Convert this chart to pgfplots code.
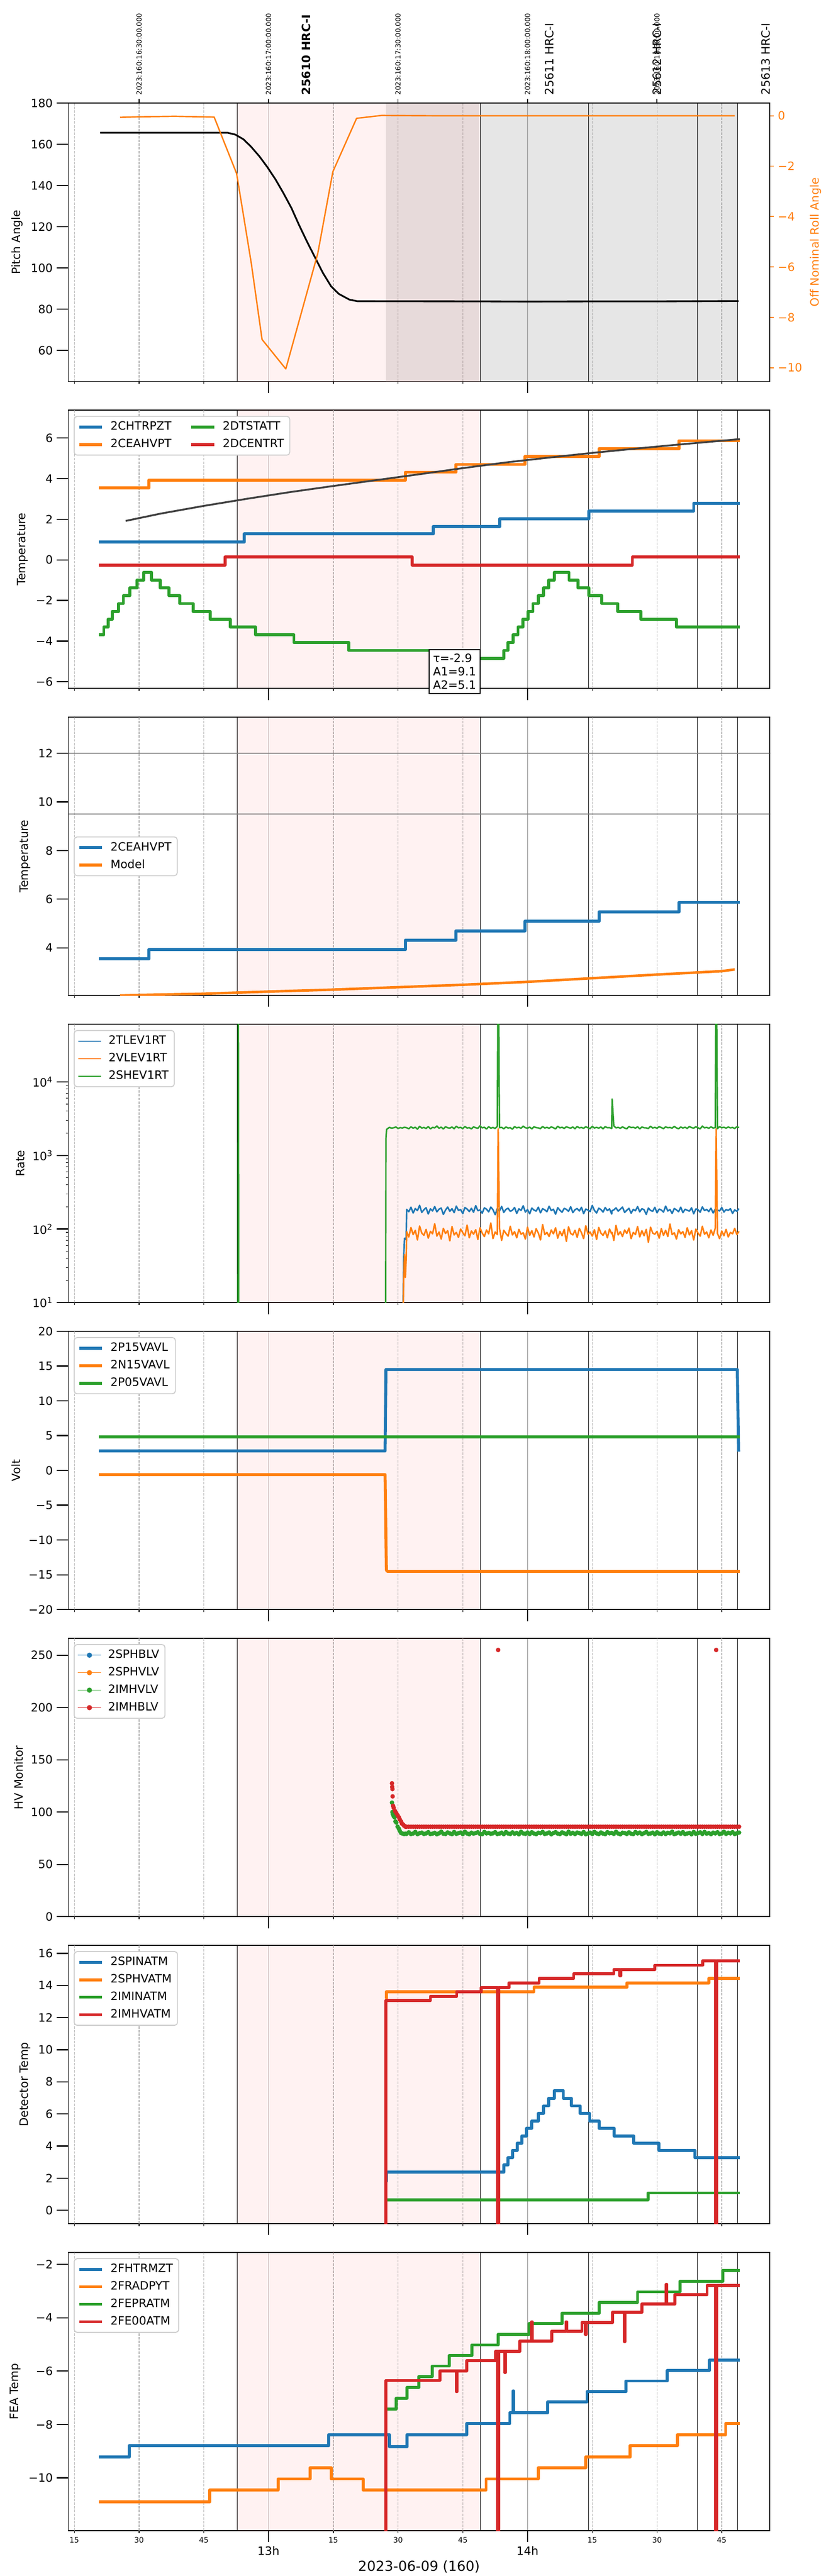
\documentclass[border=0pt]{standalone}
\usepackage{fontspec}
\setmainfont{DejaVu Sans}
\usepackage{pgfplots}
\usepackage{pgfplotstable}
\pgfplotsset{compat=1.18}
\definecolor{c0}{HTML}{1F77B4}
\definecolor{c1}{HTML}{FF7F0E}
\definecolor{c2}{HTML}{2CA02C}
\definecolor{c3}{HTML}{D62728}

\pgfplotstableread[row sep=\\]{
x b o\\
91.0 1 1\\ 91.3 40 20\\ 91.5 75 45\\ 91.7 72 22\\ 91.9 78 40\\
92.0 185 92\\ 92.5 172 78\\ 93.0 198 105\\ 93.5 165 84\\ 94.0 190 96\\ 94.5 178 71\\ 95.0 210 110\\ 95.5 168 88\\ 96.0 183 82\\ 96.5 195 99\\
97.0 160 75\\ 97.5 188 93\\ 98.0 176 86\\ 98.5 202 118\\ 99.0 171 80\\ 99.5 186 91\\ 100.0 193 73\\ 100.5 158 102\\ 101.0 181 87\\ 101.5 199 95\\
102.0 174 69\\ 102.5 189 108\\ 103.0 167 83\\ 103.5 205 90\\ 104.0 179 77\\ 104.5 184 100\\ 105.0 162 89\\ 105.5 196 81\\ 106.0 187 113\\ 106.5 173 76\\
107.0 191 94\\ 107.5 169 85\\ 108.0 208 98\\ 108.5 177 72\\ 109.0 182 104\\ 109.5 164 88\\ 110.0 194 79\\ 110.5 186 97\\ 111.0 171 86\\ 111.5 199 121\\
112.0 183 74\\ 112.5 157 91\\ 113.0 190 84\\ 113.2 180 2300\\ 113.5 176 103\\ 114.0 203 70\\ 114.5 168 96\\ 115.0 185 87\\ 115.5 192 80\\ 116.0 174 109\\ 116.5 180 83\\
117.0 196 92\\ 117.5 163 76\\ 118.0 188 99\\ 118.5 179 85\\ 119.0 207 89\\ 119.5 170 73\\ 120.0 184 106\\ 120.5 161 82\\ 121.0 193 95\\ 121.5 181 78\\
122.0 175 101\\ 122.5 198 88\\ 123.0 166 71\\ 123.5 189 115\\ 124.0 182 84\\ 124.5 172 90\\ 125.0 204 79\\ 125.5 178 97\\ 126.0 186 86\\ 126.5 159 104\\
127.0 195 75\\ 127.5 180 93\\ 128.0 169 81\\ 128.5 191 99\\ 129.0 185 68\\ 129.5 174 107\\ 130.0 201 87\\ 130.5 167 83\\ 131.0 183 96\\ 131.5 190 77\\
132.0 176 102\\ 132.5 197 89\\ 133.0 162 74\\ 133.5 187 111\\ 134.0 181 85\\ 134.5 173 91\\ 135.0 209 80\\ 135.5 179 98\\ 136.0 165 72\\ 136.5 192 105\\
137.0 184 88\\ 137.5 170 82\\ 138.0 196 94\\ 138.5 178 76\\ 139.0 188 100\\ 139.5 160 86\\ 139.6 178 90\\ 140.0 182 70\\ 140.5 194 112\\ 141.0 175 83\\ 141.5 186 92\\
142.0 199 79\\ 142.5 168 97\\ 143.0 180 87\\ 143.5 191 103\\ 144.0 164 74\\ 144.5 185 90\\ 145.0 177 84\\ 145.5 202 108\\ 146.0 171 78\\ 146.5 189 95\\
147.0 183 81\\ 147.5 158 99\\ 148.0 193 66\\ 148.5 179 106\\ 149.0 174 88\\ 149.5 197 85\\ 150.0 166 93\\ 150.5 187 75\\ 151.0 181 101\\ 151.5 170 82\\
152.0 205 96\\ 152.5 176 79\\ 153.0 184 117\\ 153.5 163 84\\ 154.0 190 89\\ 154.5 182 73\\ 155.0 172 98\\ 155.5 198 86\\ 156.0 167 92\\ 156.5 186 77\\
157.0 180 104\\ 157.5 175 83\\ 158.0 194 95\\ 158.5 161 71\\ 159.0 188 100\\ 159.5 183 88\\ 160.0 169 80\\ 160.5 200 109\\ 161.0 178 85\\ 161.5 185 91\\
162.0 173 76\\ 162.5 192 97\\ 163.0 165 82\\ 163.5 187 103\\ 163.7 180 2300\\ 164.0 181 87\\ 164.5 176 74\\ 165.0 196 94\\ 165.5 170 81\\ 166.0 184 99\\ 166.5 179 78\\
167.0 189 90\\ 167.5 163 86\\ 168.0 182 102\\ 168.5 174 84\\ 169.0 190 93\\
}\rateBO

\pgfplotstableread[row sep=\\]{
x g\\
52.9 1\\ 53.0 1e6\\ 53.1 1\\ 87.1 1\\ 87.2 1700\\ 87.35 2250\\
87.5 2300\\ 88.0 2410\\ 88.5 2350\\ 89.0 2380\\ 89.5 2440\\ 90.0 2330\\ 90.5 2390\\ 91.0 2360\\ 91.5 2420\\
92.0 2380\\ 92.5 2310\\ 93.0 2450\\ 93.5 2350\\ 94.0 2420\\ 94.5 2280\\ 95.0 2490\\ 95.5 2360\\ 96.0 2400\\ 96.5 2330\\
97.0 2470\\ 97.5 2300\\ 98.0 2410\\ 98.5 2370\\ 99.0 2520\\ 99.5 2340\\ 100.0 2430\\ 100.5 2290\\ 101.0 2460\\ 101.5 2380\\
102.0 2350\\ 102.5 2440\\ 103.0 2310\\ 103.5 2500\\ 104.0 2370\\ 104.5 2410\\ 105.0 2320\\ 105.5 2480\\ 106.0 2360\\ 106.5 2390\\
107.0 2300\\ 107.5 2450\\ 108.0 2380\\ 108.5 2340\\ 109.0 2530\\ 109.5 2370\\ 110.0 2420\\ 110.5 2290\\ 111.0 2460\\ 111.5 2350\\
112.0 2400\\ 112.5 2330\\ 113.0 2490\\ 113.2 1e6\\ 113.5 2380\\ 114.0 2410\\ 114.5 2310\\ 115.0 2440\\ 115.5 2360\\ 116.0 2390\\ 116.5 2280\\
117.0 2470\\ 117.5 2370\\ 118.0 2420\\ 118.5 2340\\ 119.0 2510\\ 119.5 2380\\ 120.0 2350\\ 120.5 2430\\ 121.0 2300\\ 121.5 2460\\
122.0 2390\\ 122.5 2370\\ 123.0 2320\\ 123.5 2480\\ 124.0 2360\\ 124.5 2410\\ 125.0 2340\\ 125.5 2450\\ 126.0 2380\\ 126.5 2300\\
127.0 2500\\ 127.5 2370\\ 128.0 2420\\ 128.5 2330\\ 129.0 2460\\ 129.5 2390\\ 130.0 2350\\ 130.5 2440\\ 131.0 2310\\ 131.5 2480\\
132.0 2370\\ 132.5 2400\\ 133.0 2340\\ 133.5 2460\\ 134.0 2380\\ 134.5 2320\\ 135.0 2490\\ 135.5 2360\\ 136.0 2410\\ 136.5 2350\\
137.0 2440\\ 137.5 2300\\ 138.0 2470\\ 138.5 2380\\ 139.0 2390\\ 139.5 2330\\ 139.6 5850\\ 140.0 2520\\ 140.5 2370\\ 141.0 2410\\ 141.5 2340\\
142.0 2450\\ 142.5 2360\\ 143.0 2310\\ 143.5 2480\\ 144.0 2390\\ 144.5 2420\\ 145.0 2350\\ 145.5 2460\\ 146.0 2300\\ 146.5 2440\\
147.0 2380\\ 147.5 2370\\ 148.0 2330\\ 148.5 2500\\ 149.0 2360\\ 149.5 2410\\ 150.0 2340\\ 150.5 2470\\ 151.0 2390\\ 151.5 2320\\
152.0 2450\\ 152.5 2380\\ 153.0 2400\\ 153.5 2350\\ 154.0 2490\\ 154.5 2370\\ 155.0 2310\\ 155.5 2440\\ 156.0 2360\\ 156.5 2420\\
157.0 2330\\ 157.5 2480\\ 158.0 2390\\ 158.5 2350\\ 159.0 2460\\ 159.5 2380\\ 160.0 2300\\ 160.5 2510\\ 161.0 2370\\ 161.5 2410\\
162.0 2340\\ 162.5 2450\\ 163.0 2360\\ 163.5 2390\\ 163.7 1e6\\ 164.0 2320\\ 164.5 2470\\ 165.0 2380\\ 165.5 2420\\ 166.0 2350\\ 166.5 2440\\
167.0 2370\\ 167.5 2400\\ 168.0 2330\\ 168.5 2460\\ 169.0 2390\\
}\rateG

\pgfplotstableread[row sep=\\]{
x r g\\
92.0 86 79.2\\ 92.5 86 80.6\\ 93.0 86 79.0\\ 93.5 86 79.5\\ 94.0 86 81.0\\ 94.5 86 78.9\\ 95.0 86 79.8\\ 95.5 86 80.3\\ 96.0 86 79.1\\ 96.5 86 79.6\\
97.0 86 80.8\\ 97.5 86 79.0\\ 98.0 86 79.4\\ 98.5 86 80.1\\ 99.0 86 78.8\\ 99.5 86 79.7\\ 100.0 86 81.2\\ 100.5 86 79.3\\ 101.0 86 79.0\\ 101.5 86 80.5\\
102.0 86 79.6\\ 102.5 86 78.9\\ 103.0 86 80.9\\ 103.5 86 79.2\\ 104.0 86 79.8\\ 104.5 86 80.4\\ 105.0 86 79.0\\ 105.5 86 81.1\\ 106.0 86 79.5\\ 106.5 86 78.8\\
107.0 86 80.2\\ 107.5 86 79.4\\ 108.0 86 79.9\\ 108.5 86 80.7\\ 109.0 86 79.1\\ 109.5 86 78.9\\ 110.0 86 81.0\\ 110.5 86 79.6\\ 111.0 86 80.0\\ 111.5 86 79.2\\
112.0 86 79.7\\ 112.5 86 80.8\\ 113.0 86 79.0\\ 113.5 86 79.4\\ 114.0 86 80.3\\ 114.5 86 78.9\\ 115.0 86 80.9\\ 115.5 86 79.5\\ 116.0 86 79.1\\ 116.5 86 80.6\\
117.0 86 79.3\\ 117.5 86 80.0\\ 118.0 86 78.8\\ 118.5 86 81.1\\ 119.0 86 79.6\\ 119.5 86 79.2\\ 120.0 86 80.4\\ 120.5 86 79.0\\ 121.0 86 80.7\\ 121.5 86 79.5\\
122.0 86 78.9\\ 122.5 86 80.2\\ 123.0 86 79.8\\ 123.5 86 81.0\\ 124.0 86 79.1\\ 124.5 86 79.6\\ 125.0 86 80.5\\ 125.5 86 78.8\\ 126.0 86 79.9\\ 126.5 86 80.8\\
127.0 86 79.4\\ 127.5 86 79.0\\ 128.0 86 80.6\\ 128.5 86 79.7\\ 129.0 86 78.9\\ 129.5 86 81.2\\ 130.0 86 79.3\\ 130.5 86 80.1\\ 131.0 86 79.0\\ 131.5 86 80.4\\
132.0 86 79.8\\ 132.5 86 79.2\\ 133.0 86 80.9\\ 133.5 86 78.8\\ 134.0 86 79.5\\ 134.5 86 80.3\\ 135.0 86 79.1\\ 135.5 86 81.0\\ 136.0 86 79.6\\ 136.5 86 79.0\\
137.0 86 80.5\\ 137.5 86 79.4\\ 138.0 86 78.9\\ 138.5 86 80.8\\ 139.0 86 79.7\\ 139.5 86 80.0\\ 140.0 86 79.2\\ 140.5 86 81.1\\ 141.0 86 79.5\\ 141.5 86 78.8\\
142.0 86 80.2\\ 142.5 86 79.9\\ 143.0 86 79.1\\ 143.5 86 80.6\\ 144.0 86 79.3\\ 144.5 86 79.0\\ 145.0 86 80.9\\ 145.5 86 79.6\\ 146.0 86 80.4\\ 146.5 86 78.9\\
147.0 86 79.8\\ 147.5 86 81.0\\ 148.0 86 79.2\\ 148.5 86 79.5\\ 149.0 86 80.3\\ 149.5 86 78.8\\ 150.0 86 80.7\\ 150.5 86 79.4\\ 151.0 86 79.1\\ 151.5 86 80.5\\
152.0 86 79.0\\ 152.5 86 80.1\\ 153.0 86 79.7\\ 153.5 86 81.2\\ 154.0 86 78.9\\ 154.5 86 79.6\\ 155.0 86 80.4\\ 155.5 86 79.3\\ 156.0 86 80.8\\ 156.5 86 79.0\\
157.0 86 79.5\\ 157.5 86 80.0\\ 158.0 86 78.8\\ 158.5 86 80.9\\ 159.0 86 79.2\\ 159.5 86 79.8\\ 160.0 86 80.6\\ 160.5 86 79.1\\ 161.0 86 81.0\\ 161.5 86 79.4\\
162.0 86 79.9\\ 162.5 86 78.9\\ 163.0 86 80.3\\ 163.5 86 79.6\\ 164.0 86 80.7\\ 164.5 86 79.0\\ 165.0 86 79.5\\ 165.5 86 81.1\\ 166.0 86 79.2\\ 166.5 86 80.2\\
167.0 86 79.6\\ 167.5 86 80.8\\ 168.0 86 79.0\\ 168.5 86 79.7\\ 169.0 86 80.4\\
}\hvmon

\pgfplotsset{
  evl/.style={black, line width=0.45pt, forget plot},
  extrat/.style={major tick length=2pt, grid=major,
    major grid style={color=gray!60, line width=0.6pt, dash pattern=on 2.2pt off 1pt},
    major tick style={line width=0.6pt}},
  panel/.style={
    scale only axis, width=609.96pt, height=242.10pt,
    xmin=13.62, xmax=176.1, clip mode=individual,
    axis line style={line width=0.7pt},
    tick align=outside, xtick pos=left, ytick pos=left,
    major tick length=10pt, minor tick length=2pt,
    tick style={black, line width=1pt}, minor tick style={line width=0.5pt},
    xtick={60,120}, xticklabels={},
    xmajorgrids, major grid style={solid, color=gray!60, line width=0.6pt},
    extra x ticks={15,30,45,75,90,105,135,150,165}, extra x tick labels={},
    extra tick style={extrat},
    legend image code/.code={\draw[##1, line cap=butt] (0pt,0pt) -- (20pt,0pt);},
    legend cell align=left,
    legend style={at={(0.0077,0.979)}, anchor=north west, draw=black!20, line width=0.8pt,
      rounded corners=2.5pt, fill=white, font=\fontsize{10}{12}\selectfont,
      inner xsep=3pt, inner ysep=2.5pt, row sep=1.7pt, column sep=4pt,
      nodes={inner sep=2pt, text height=7.5pt, text depth=2pt},
      /tikz/every even column/.append style={column sep=14pt}},
  }
}
\newcommand\evbg[2]{%
  \addplot[draw=none, fill=red, fill opacity=0.05, forget plot] coordinates {(52.7,#1)(52.7,#2)(109.1,#2)(109.1,#1)} -- cycle;
  \addplot[evl] coordinates {(52.7,#1)(52.7,#2)};
  \addplot[evl] coordinates {(109.1,#1)(109.1,#2)};
  \addplot[evl] coordinates {(134.2,#1)(134.2,#2)};
  \addplot[evl] coordinates {(159.3,#1)(159.3,#2)};
  \addplot[evl] coordinates {(168.7,#1)(168.7,#2)};
}

\begin{document}
\begin{tikzpicture}
\path[use as bounding box] (0pt,0pt) rectangle (722.7pt,-2240.37pt);

% ---------- Panel 1 ----------
\begin{axis}[panel, at={(59.44pt,-89.61pt)}, anchor=north west,
  ymin=45, ymax=180, ytick={60,80,100,120,140,160,180},
  yticklabels={60,80,100,120,140,160,180}, ylabel={Pitch Angle}]
\addplot[draw=none, fill=gray, fill opacity=0.2, forget plot] coordinates {(87.2,0)(87.2,300)(168.7,300)(168.7,0)} -- cycle;
\evbg{0}{300}
\addplot[black, line width=1.5pt, line join=round] coordinates {
(21.0,165.6)(50.5,165.6)(52.3,164.7)(54.2,162.4)(56.0,158.7)(57.9,154.1)(59.7,149.0)(61.6,143.0)
(63.4,136.5)(65.3,129.1)(67.1,120.7)(69.0,112.4)(70.8,105.0)(72.6,97.6)(74.5,91.1)(76.3,87.4)
(78.8,84.6)(80.6,83.9)(110,83.8)(120,83.7)(135,83.8)(150,83.8)(168.9,84.0)};
\node[rotate=90, anchor=west, inner sep=0pt, font=\fontsize{6}{7}\selectfont] at ([yshift=6.9pt]axis cs:30,180) {2023:160:16:30:00.000};
\node[rotate=90, anchor=west, inner sep=0pt, font=\fontsize{6}{7}\selectfont] at ([yshift=6.9pt]axis cs:60,180) {2023:160:17:00:00.000};
\node[rotate=90, anchor=west, inner sep=0pt, font=\fontsize{6}{7}\selectfont] at ([yshift=6.9pt]axis cs:90,180) {2023:160:17:30:00.000};
\node[rotate=90, anchor=west, inner sep=0pt, font=\fontsize{6}{7}\selectfont] at ([yshift=6.9pt]axis cs:120,180) {2023:160:18:00:00.000};
\node[rotate=90, anchor=west, inner sep=0pt, font=\fontsize{6}{7}\selectfont] at ([yshift=6.9pt]axis cs:150,180) {2023:160:18:30:00.000};
\node[rotate=90, anchor=west, inner sep=0pt, font=\bfseries] at ([yshift=6.9pt]axis cs:68.67,180) {25610 HRC-I};
\node[rotate=90, anchor=west, inner sep=0pt] at ([yshift=6.9pt]axis cs:125.1,180) {25611 HRC-I};
\node[rotate=90, anchor=west, inner sep=0pt] at ([yshift=6.9pt]axis cs:150.0,180) {25612 HRC-I};
\node[rotate=90, anchor=west, inner sep=0pt] at ([yshift=6.9pt]axis cs:175.2,180) {25613 HRC-I};
\end{axis}
\begin{axis}[scale only axis, width=609.96pt, height=242.10pt, at={(59.44pt,-89.61pt)}, anchor=north west,
  xmin=13.62, xmax=176.1, ymin=-10.545, ymax=0.507, axis x line=none, axis y line*=right,
  clip mode=individual, axis line style={line width=0.7pt}, tick align=outside,
  major tick length=3.6pt, tick style={c1, line width=0.8pt},
  ytick={-10,-8,-6,-4,-2,0}, yticklabels={−10,−8,−6,−4,−2,0}, yticklabel style={text=c1},
  ylabel={Off Nominal Roll Angle}, ylabel style={text=c1}]
\addplot[c1, line width=1.2pt, line join=round] coordinates {
(25.6,-0.06)(30,-0.04)(38.2,-0.02)(47.4,-0.05)(52.6,-2.29)(54.2,-3.96)(56.0,-5.85)(58.5,-8.88)
(64.0,-10.05)(71.4,-5.47)(74.9,-2.22)(80.4,-0.10)(86.2,0.015)(100,0)(120,0)(140,0)(168.0,0)};
\end{axis}
\begin{axis}[scale only axis, width=609.96pt, height=242.10pt, at={(59.44pt,-89.61pt)}, anchor=north west,
  xmin=13.62, xmax=176.1, ymin=0, ymax=1, axis x line*=top, axis y line=none,
  axis line style={line width=0.7pt}, tick align=outside, major tick length=3.6pt,
  tick style={black, line width=0.8pt}, xtick={30,60,90,120,150}, xticklabels={}]
\end{axis}

% ---------- Panel 2 ----------
\begin{axis}[panel, at={(59.44pt,-356.65pt)}, anchor=north west,
  ymin=-6.33, ymax=7.38, ytick={-6,-4,-2,0,2,4,6}, yticklabels={−6,−4,−2,0,2,4,6},
  ylabel={Temperature}, legend columns=2,
  legend entries={2CHTRPZT,2DTSTATT,2CEAHVPT,2DCENTRT}]
\addlegendimage{c0, line width=2.6pt}
\addlegendimage{c2, line width=2.6pt}
\addlegendimage{c1, line width=2.6pt}
\addlegendimage{c3, line width=2.6pt}
\evbg{-100}{100}
\addplot[c0, line width=2.6pt, const plot, line join=round] coordinates {
(20.7,0.89)(54.4,1.28)(98.2,1.65)(113.6,2.03)(134.2,2.41)(158.5,2.79)(169.2,2.79)};
\addplot[c1, line width=2.6pt, const plot, line join=round] coordinates {
(20.7,3.55)(32.3,3.93)(91.7,4.32)(103.4,4.70)(119.4,5.09)(136.6,5.48)(155.1,5.87)(169.2,5.87)};
\addplot[c2, line width=2.6pt, const plot, line join=round] coordinates {
(20.72,-3.69)(21.83,-3.305)(22.81,-2.92)(23.80,-2.535)(25.27,-2.15)(26.38,-1.765)(27.86,-1.38)(29.58,-0.995)
(31.06,-0.61)(32.90,-0.995)(34.87,-1.38)(36.96,-1.765)(39.42,-2.15)(42.50,-2.535)(46.44,-2.92)(51.11,-3.305)
(57.02,-3.69)(65.88,-4.075)(78.55,-4.46)(103.4,-4.845)(114.48,-4.46)(115.46,-4.075)(116.69,-3.69)(117.80,-3.305)
(118.91,-2.92)(120.14,-2.535)(121.25,-2.15)(122.48,-1.765)(123.71,-1.38)(124.94,-0.995)(126.17,-0.61)(129.61,-0.995)
(131.70,-1.38)(134.17,-1.765)(137.24,-2.15)(140.93,-2.535)(146.22,-2.92)(154.46,-3.305)(169.23,-3.305)};
\addplot[c3, line width=2.6pt, const plot, line join=round] coordinates {
(20.7,-0.25)(49.9,0.14)(93.3,-0.25)(144.3,0.14)(169.2,0.14)};
\addplot[black!75, line width=1.6pt, line join=round] coordinates {
(26.9,1.92)(35,2.28)(45,2.66)(55,3.01)(65,3.34)(75,3.64)(85,3.93)(95,4.22)(105,4.52)(115,4.80)
(125,5.04)(135,5.27)(145,5.48)(155,5.68)(169.2,5.95)};
\node[draw=black, line width=0.8pt, fill=white, align=left, inner sep=3.5pt,
  font=\fontsize{10}{11.6}\selectfont] at (axis cs:103.1,-5.5) {τ=-2.9\\A1=9.1\\A2=5.1};
\end{axis}

% ---------- Panel 3 ----------
\begin{axis}[panel, at={(59.44pt,-623.69pt)}, anchor=north west,
  ymin=2.04, ymax=13.49, ytick={4,6,8,10,12}, yticklabels={4,6,8,10,12},
  ylabel={Temperature}, legend style={at={(0.0077,0.5)}, anchor=west},
  legend entries={2CEAHVPT,Model}]
\addlegendimage{c0, line width=2.6pt}
\addlegendimage{c1, line width=2.6pt}
\evbg{-100}{100}
\addplot[gray, line width=0.9pt, forget plot] coordinates {(0,12)(200,12)};
\addplot[gray, line width=0.9pt, forget plot] coordinates {(0,9.5)(200,9.5)};
\addplot[c0, line width=2.6pt, const plot, line join=round] coordinates {
(20.7,3.55)(32.3,3.93)(91.7,4.32)(103.4,4.70)(119.4,5.09)(136.6,5.48)(155.1,5.87)(169.2,5.87)};
\addplot[c1, line width=2.2pt, line join=round] coordinates {
(25.6,2.04)(29.8,2.06)(44.8,2.11)(53,2.16)(60,2.20)(74.9,2.28)(89.9,2.38)(105,2.48)(120,2.60)
(135,2.75)(150,2.90)(165,3.04)(168,3.11)};
\end{axis}

% ---------- Panel 4 ----------
\begin{axis}[panel, at={(59.44pt,-890.73pt)}, anchor=north west, ymode=log,
  ymin=10, ymax=61000, ytick={10,100,1000,10000},
  yticklabels={10\textsuperscript{1},10\textsuperscript{2},10\textsuperscript{3},10\textsuperscript{4}},
  ylabel={Rate}, legend entries={2TLEV1RT,2VLEV1RT,2SHEV1RT}]
\addlegendimage{c0, line width=1pt}
\addlegendimage{c1, line width=1pt}
\addlegendimage{c2, line width=1pt}
\evbg{1}{1e7}
\addplot[c0, line width=1.3pt, line join=round] table[x=x, y=b] {\rateBO};
\addplot[c1, line width=1.3pt, line join=round] table[x=x, y=o] {\rateBO};
\addplot[c2, line width=1.3pt, line join=round] table[x=x, y=g] {\rateG};
\end{axis}

% ---------- Panel 5 ----------
\begin{axis}[panel, at={(59.44pt,-1157.77pt)}, anchor=north west,
  ymin=-20, ymax=20, ytick={-20,-15,-10,-5,0,5,10,15,20},
  yticklabels={−20,−15,−10,−5,0,5,10,15,20},
  ylabel={Volt}, legend entries={2P15VAVL,2N15VAVL,2P05VAVL}]
\addlegendimage{c0, line width=2.6pt}
\addlegendimage{c1, line width=2.6pt}
\addlegendimage{c2, line width=2.6pt}
\evbg{-100}{100}
\addplot[c0, line width=2.6pt, line join=round] coordinates {(20.7,2.8)(87.0,2.8)(87.2,14.5)(168.6,14.5)(168.9,2.7)};
\addplot[c1, line width=2.6pt, line join=round] coordinates {(20.7,-0.6)(87.0,-0.6)(87.3,-14.3)(87.5,-14.5)(169.2,-14.5)};
\addplot[c2, line width=2.6pt, line join=round] coordinates {(20.7,4.8)(169.2,4.8)};
\end{axis}

% ---------- Panel 6 ----------
\begin{axis}[panel, at={(59.44pt,-1424.80pt)}, anchor=north west,
  ymin=0, ymax=266.2, ytick={0,50,100,150,200,250}, yticklabels={0,50,100,150,200,250},
  ylabel={HV Monitor}, legend entries={2SPHBLV,2SPHVLV,2IMHVLV,2IMHBLV},
  legend image code/.code={\path (0pt,0pt) -- (20pt,0pt); \draw[#1, /tikz/only marks] plot coordinates {(10pt,0pt)};}]
\addlegendimage{mark=*, c0, mark size=2pt, line width=0.5pt}
\addlegendimage{mark=*, c1, mark size=2pt, line width=0.5pt}
\addlegendimage{mark=*, c2, mark size=2pt, line width=0.5pt}
\addlegendimage{mark=*, c3, mark size=2pt, line width=0.5pt}
\evbg{-100}{1000}
\addplot[only marks, mark=*, mark size=1.8pt, c2, line width=0.3pt] coordinates {
(88.6,109)(88.7,100)(88.8,98)(89.0,96)(89.2,95)(89.4,91)(89.6,90)(89.9,86)(90.2,84)(90.4,82)(90.7,80)(91.0,79.5)(91.4,79)(91.7,79.3)};
\addplot[only marks, mark=*, mark size=1.8pt, c2, line width=0.3pt] table[x=x, y=g] {\hvmon};
\addplot[only marks, mark=*, mark size=1.8pt, c3, line width=0.3pt] coordinates {
(88.60,127.5)(88.65,124)(88.70,122)(88.75,115)(88.85,106)(89.0,104)(89.3,101)(89.6,99)(89.9,97)(90.2,95)
(90.4,93)(90.7,91)(90.9,89)(91.2,88)(91.4,87)(91.7,86)(113.2,255)(163.7,255)};
\addplot[only marks, mark=*, mark size=1.8pt, c3, line width=0.3pt] table[x=x, y=r] {\hvmon};
\end{axis}

% ---------- Panel 7 ----------
\begin{axis}[panel, at={(59.44pt,-1691.84pt)}, anchor=north west,
  ymin=-0.83, ymax=16.5, ytick={0,2,4,6,8,10,12,14,16}, yticklabels={0,2,4,6,8,10,12,14,16},
  ylabel={Detector Temp}, legend entries={2SPINATM,2SPHVATM,2IMINATM,2IMHVATM}]
\addlegendimage{c0, line width=2.6pt}
\addlegendimage{c1, line width=2.6pt}
\addlegendimage{c2, line width=2.6pt}
\addlegendimage{c3, line width=2.6pt}
\evbg{-100}{100}
\addplot[c0, line width=2.6pt, const plot, line join=round] coordinates {
(87.1,1.8)(87.3,2.37)(114.5,2.82)(115.5,3.27)(116.5,3.73)(117.6,4.18)(118.7,4.63)(119.8,5.10)(121.0,5.55)
(122.5,6.03)(123.7,6.50)(124.9,6.98)(126.2,7.45)(128.3,6.98)(130.2,6.50)(132.2,6.03)(134.4,5.55)(136.6,5.10)
(140.1,4.63)(144.6,4.18)(150.4,3.73)(158.8,3.27)(169.2,3.27)};
\addplot[c1, line width=2.6pt, const plot, line join=round] coordinates {
(87.1,13.2)(87.3,13.61)(121.5,13.89)(143.0,14.16)(162.0,14.43)(169.2,14.43)};
\addplot[c2, line width=2.6pt, const plot, line join=round] coordinates {
(87.2,0.66)(147.9,1.08)(169.2,1.08)};
\addplot[c3, line width=2.6pt, const plot, line join=round] coordinates {
(86.9,-5)(87.2,13.06)(97.5,13.33)(103.6,13.60)(109.3,13.87)(113.1,-5)(113.3,13.87)(115.7,14.16)(122.7,14.44)
(130.7,14.72)(140.0,14.99)(141.4,14.6)(141.6,14.99)(149.5,15.26)(160.6,15.54)(163.6,-5)(163.8,15.54)(169.2,15.54)};
\end{axis}

% ---------- Panel 8 ----------
\begin{axis}[panel, at={(59.44pt,-1958.88pt)}, anchor=north west,
  ymin=-11.98, ymax=-1.55, ytick={-10,-8,-6,-4,-2}, yticklabels={−10,−8,−6,−4,−2},
  ylabel={FEA Temp}, xticklabels={13h,14h},
  extra x tick labels={15,30,45,15,30,45,15,30,45},
  extra tick style={extrat, tick label style={font=\fontsize{6.5}{7.5}\selectfont}},
  xlabel={2023-06-09 (160)},
  xlabel style={font=\fontsize{12}{14}\selectfont, at={(axis description cs:0.5,0)}, anchor=center, yshift=-31.4pt},
  legend entries={2FHTRMZT,2FRADPYT,2FEPRATM,2FE00ATM}]
\addlegendimage{c0, line width=2.6pt}
\addlegendimage{c1, line width=2.6pt}
\addlegendimage{c2, line width=2.6pt}
\addlegendimage{c3, line width=2.6pt}
\evbg{-100}{100}
\addplot[c0, line width=2.6pt, const plot, line join=round] coordinates {
(20.7,-9.22)(27.7,-8.79)(73.9,-8.38)(88.0,-8.83)(92.1,-8.38)(105.9,-7.97)(115.9,-7.56)(116.6,-6.75)(116.8,-7.56)
(124.7,-7.16)(133.8,-6.77)(142.8,-6.37)(152.4,-5.98)(162.1,-5.59)(169.2,-5.59)};
\addplot[c1, line width=2.6pt, const plot, line join=round] coordinates {
(20.7,-10.9)(46.4,-10.46)(62.2,-10.04)(69.6,-9.62)(74.5,-10.04)(81.9,-10.46)(110.4,-10.04)(122.5,-9.62)
(133.5,-9.21)(143.8,-8.79)(154.7,-8.38)(165.9,-7.97)(169.2,-7.97)};
\addplot[c2, line width=2.6pt, const plot, line join=round] coordinates {
(87.2,-7.42)(89.6,-7.01)(92.1,-6.61)(94.8,-6.20)(97.9,-5.81)(101.9,-5.42)(107.1,-5.02)(113.2,-4.62)(120.4,-4.22)
(128.0,-3.83)(136.6,-3.43)(145.5,-3.03)(155.3,-2.64)(165.2,-2.23)(169.2,-2.23)};
\addplot[c3, line width=2.6pt, const plot, line join=round] coordinates {
(87.0,-13)(87.2,-6.35)(99.7,-5.99)(103.5,-6.77)(103.7,-5.99)(105.9,-5.61)(112.6,-5.26)(113.1,-13)(113.3,-5.26)
(114.7,-6.05)(114.9,-5.26)(118.2,-4.88)(120.9,-4.15)(121.1,-4.88)(125.6,-4.50)(128.9,-4.15)(129.1,-4.50)
(132.6,-4.18)(133.4,-4.62)(133.6,-4.18)(139.7,-3.80)(142.4,-4.90)(142.6,-3.80)(146.5,-3.49)(152.1,-2.75)
(152.3,-3.49)(154.1,-3.13)(161.6,-2.79)(163.6,-13)(163.8,-2.79)(169.2,-2.79)};
\end{axis}
\end{tikzpicture}
\end{document}
